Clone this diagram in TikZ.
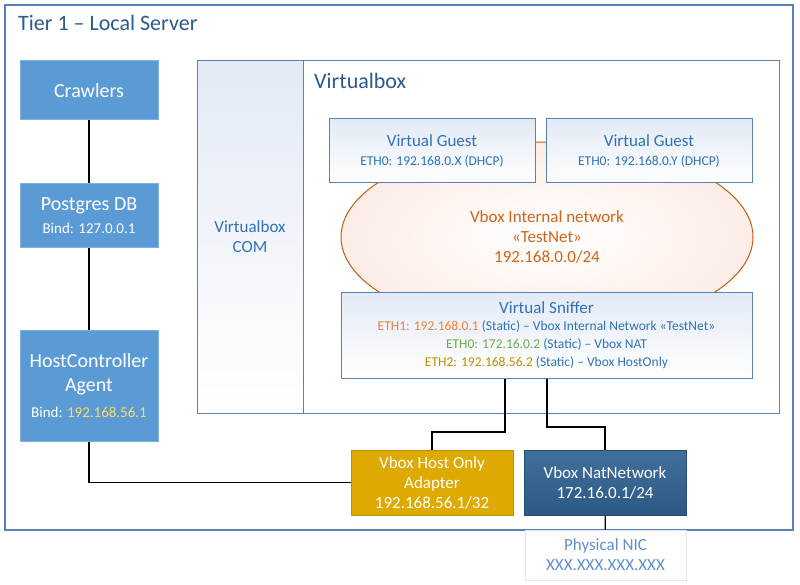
\documentclass[tikz,border=0pt]{standalone}
\usepackage{fontspec}
\setmainfont{Carlito}
\usetikzlibrary{positioning,shapes.geometric}
\definecolor{frameblue}{HTML}{5A82B8}
\definecolor{titleblue}{HTML}{2B5A8C}
\definecolor{textblue}{HTML}{2E72B8}
\definecolor{boxblue}{HTML}{5B9BD5}
\definecolor{boxedge}{HTML}{7FB0DE}
\definecolor{glasstop}{HTML}{E3EAF5}
\definecolor{netorange}{HTML}{C55A11}
\definecolor{nettext}{HTML}{CF6418}
\definecolor{netfill}{HTML}{FCEDE6}
\definecolor{ethone}{HTML}{F07F3C}
\definecolor{ethzero}{HTML}{70AD47}
\definecolor{ethtwo}{HTML}{BF9000}
\definecolor{bindyellow}{HTML}{FFD966}
\definecolor{hostgold}{HTML}{DEA900}
\definecolor{hostedge}{HTML}{BF9000}
\definecolor{nattop}{HTML}{416F9C}
\definecolor{natbottom}{HTML}{2C5884}
\definecolor{natedge}{HTML}{2A4D72}
\definecolor{nicedge}{HTML}{E3E8EF}
\definecolor{nictext}{HTML}{628FCB}

\begin{document}
\begin{tikzpicture}[x=1pt,y=-1pt,
    box/.style={draw,rectangle,inner sep=0pt,align=center,line width=1pt},
    bluebox/.style={box,fill=boxblue,draw=boxedge,text=white,minimum width=138pt},
    glassbox/.style={box,draw=frameblue,top color=glasstop,bottom color=white,text=textblue},
    bigtxt/.style={font=\fontsize{20}{24}\selectfont},
    midtxt/.style={font=\fontsize{17}{20}\selectfont},
    smalltxt/.style={font=\fontsize{13.5}{18}\selectfont},
    wire/.style={draw=black,line width=1.3pt}]
\useasboundingbox (0,0) rectangle (800,585);

\node [box,draw=frameblue,line width=1.3pt,minimum width=788pt,minimum height=525pt] (tier) at (399,267.5) {};
\node [anchor=base west,text=titleblue,font=\fontsize{22}{26}\selectfont,inner sep=0pt] (tiertitle) at (18,31) {Tier 1 -- Local Server};

\node [bluebox,bigtxt,minimum height=59pt] (crawl) at (89,90.5) {Crawlers};
\node [bluebox,bigtxt,minimum height=64pt] (pg) at (89,216) {Postgres DB\\[-1pt]\fontsize{15}{18}\selectfont Bind: 127.0.0.1};
\node [bluebox,bigtxt,minimum height=111pt] (hc) at (89,385.5) {HostController\\Agent\\[2pt]\fontsize{15}{18}\selectfont Bind: \textcolor{bindyellow}{192.168.56.1}};

\node [glassbox,midtxt,minimum width=106pt,minimum height=352pt] (com) at (250,237) {Virtualbox\\COM};
\node [box,draw=frameblue,fill=white,minimum width=476pt,minimum height=352pt] (vbox) at (541,237) {};
\node [anchor=base west,text=titleblue,font=\fontsize{22}{26}\selectfont,inner sep=0pt] (vboxtitle) at (314,89) {Virtualbox};

\node [ellipse,draw=netorange,inner color=white,outer color=netfill,line width=1pt,minimum width=412pt,minimum height=190pt,
       text=nettext,midtxt,align=center] (intnet) at (547,237) {Vbox Internal network\\«TestNet»\\192.168.0.0/24};

\node [glassbox,smalltxt,minimum width=206pt,minimum height=64pt] (guestx) at (432,151) {\fontsize{17}{20}\selectfont Virtual Guest\\[1pt]ETH0: 192.168.0.X (DHCP)};
\node [glassbox,smalltxt,minimum width=206pt,minimum height=64pt] (guesty) at (649,151) {\fontsize{17}{20}\selectfont Virtual Guest\\[1pt]ETH0: 192.168.0.Y (DHCP)};

\node [glassbox,smalltxt,minimum width=411pt,minimum height=86pt] (sniff) at (546.5,335) {\fontsize{17}{20}\selectfont Virtual Sniffer\\[-1pt]
  \textcolor{ethone}{ETH1: 192.168.0.1} (Static) -- Vbox Internal Network «TestNet»\\
  \textcolor{ethzero}{ETH0: 172.16.0.2} (Static) -- Vbox NAT\\
  \textcolor{ethtwo}{ETH2: 192.168.56.2} (Static) -- Vbox HostOnly};

\node [box,fill=hostgold,draw=hostedge,text=white,midtxt,minimum width=162pt,minimum height=65pt] (host) at (432,482.5) {Vbox Host Only\\Adapter\\192.168.56.1/32};
\node [box,top color=nattop,bottom color=natbottom,draw=natedge,text=white,midtxt,minimum width=162pt,minimum height=65pt] (nat) at (605,482.5) {Vbox NatNetwork\\172.16.0.1/24};
\node [box,fill=white,draw=nicedge,text=nictext,midtxt,minimum width=161pt,minimum height=50pt] (nic) at (605.5,555) {Physical NIC\\XXX.XXX.XXX.XXX};

\coordinate (tapa) at (505,432);
\coordinate (tapb) at (547,427);

\draw [wire] (crawl) -- (pg);
\draw [wire] (pg) -- (hc);
\draw [wire] (hc.south) |- (host.west);
\draw [wire] (sniff.south -| tapa) -- (tapa) -| (host.north);
\draw [wire] (sniff.south -| tapb) -- (tapb) -| (nat.north);
\draw [wire] (nat) -- (nic);
\end{tikzpicture}
\end{document}
